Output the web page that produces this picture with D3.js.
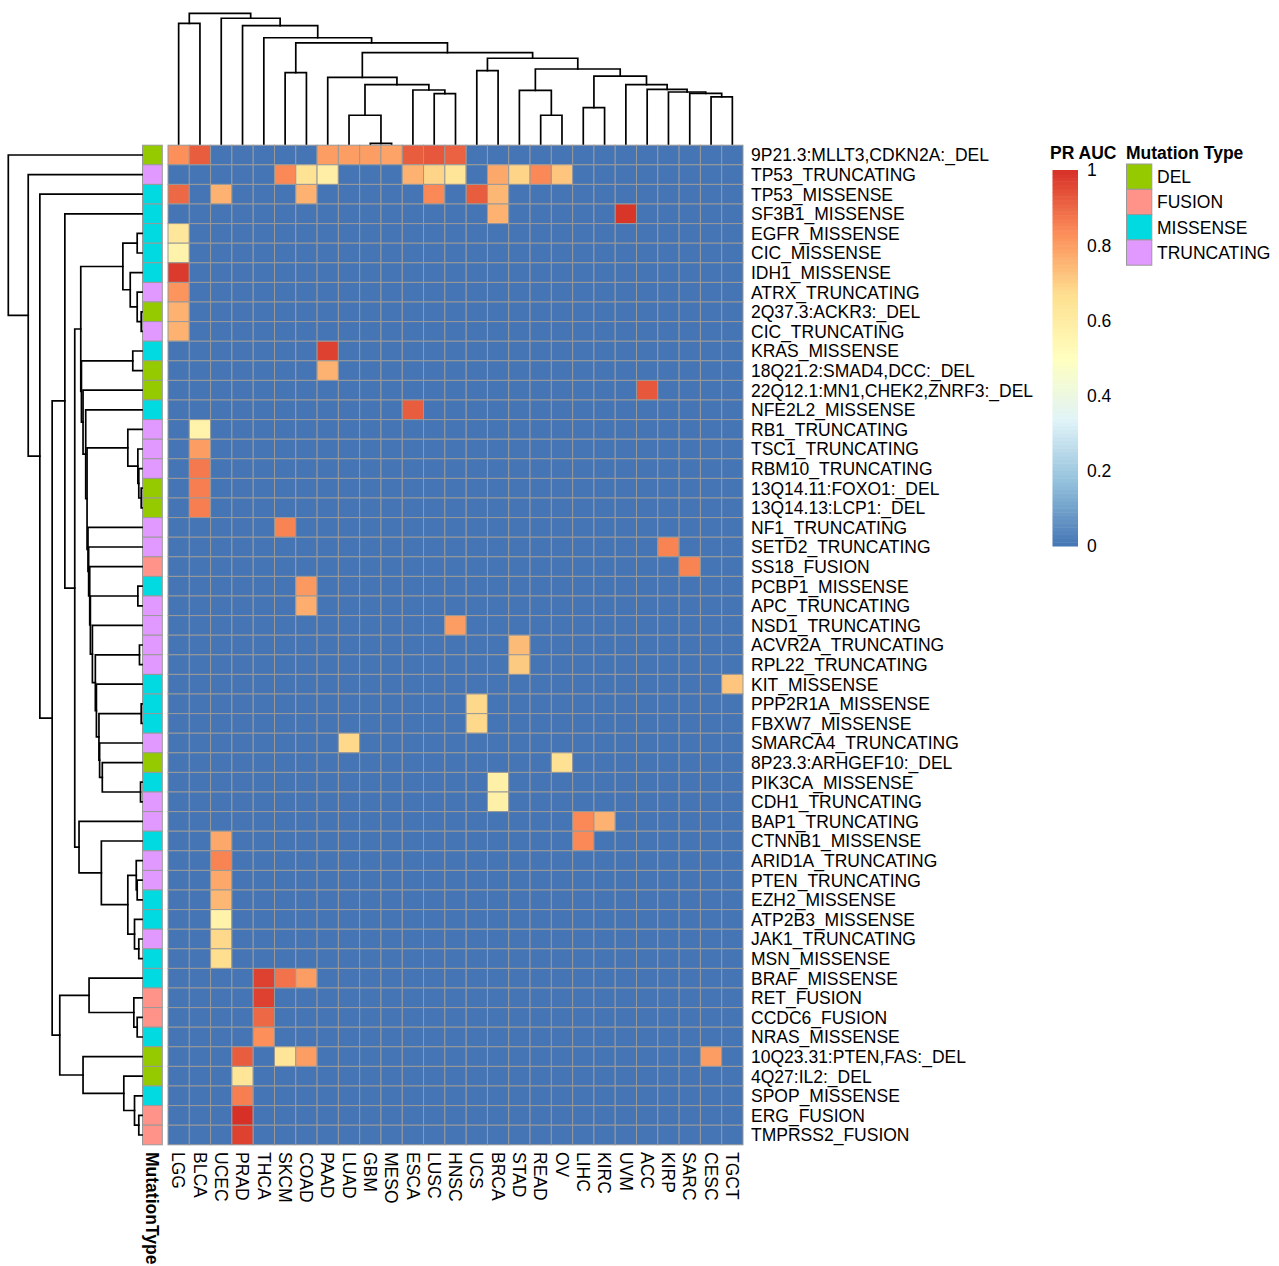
<!DOCTYPE html>
<html lang="en">
<head>
<meta charset="UTF-8">
<title>PR AUC by mutation and cancer type</title>
<style>
  body { margin: 0; background: #fff; }
  svg { display: block; font-family: "Liberation Sans", Arial, Helvetica, sans-serif; }
  .cell { stroke: #999999; stroke-width: 1; }
  .dendro { fill: none; stroke: #000; stroke-width: 1.7; stroke-linecap: square; }
  .lab { font-size: 17.5px; fill: #000; }
  .title { font-size: 17.5px; font-weight: bold; fill: #000; }
</style>
</head>
<body>
<svg width="1279" height="1266"></svg>
<script src="https://d3js.org/d3.v7.min.js"></script>
<script>
// columns in dendrogram order
const cancerTypes = ["LGG", "BLCA", "UCEC", "PRAD", "THCA", "SKCM", "COAD", "PAAD", "LUAD",
  "GBM", "MESO", "ESCA", "LUSC", "HNSC", "UCS", "BRCA", "STAD", "READ", "OV", "LIHC",
  "KIRC", "UVM", "ACC", "KIRP", "SARC", "CESC", "TGCT"];

// rows in dendrogram order
const mutations = ["9P21.3:MLLT3,CDKN2A:_DEL", "TP53_TRUNCATING", "TP53_MISSENSE", "SF3B1_MISSENSE",
  "EGFR_MISSENSE", "CIC_MISSENSE", "IDH1_MISSENSE", "ATRX_TRUNCATING", "2Q37.3:ACKR3:_DEL",
  "CIC_TRUNCATING", "KRAS_MISSENSE", "18Q21.2:SMAD4,DCC:_DEL", "22Q12.1:MN1,CHEK2,ZNRF3:_DEL",
  "NFE2L2_MISSENSE", "RB1_TRUNCATING", "TSC1_TRUNCATING", "RBM10_TRUNCATING", "13Q14.11:FOXO1:_DEL",
  "13Q14.13:LCP1:_DEL", "NF1_TRUNCATING", "SETD2_TRUNCATING", "SS18_FUSION", "PCBP1_MISSENSE",
  "APC_TRUNCATING", "NSD1_TRUNCATING", "ACVR2A_TRUNCATING", "RPL22_TRUNCATING", "KIT_MISSENSE",
  "PPP2R1A_MISSENSE", "FBXW7_MISSENSE", "SMARCA4_TRUNCATING", "8P23.3:ARHGEF10:_DEL",
  "PIK3CA_MISSENSE", "CDH1_TRUNCATING", "BAP1_TRUNCATING", "CTNNB1_MISSENSE", "ARID1A_TRUNCATING",
  "PTEN_TRUNCATING", "EZH2_MISSENSE", "ATP2B3_MISSENSE", "JAK1_TRUNCATING", "MSN_MISSENSE",
  "BRAF_MISSENSE", "RET_FUSION", "CCDC6_FUSION", "NRAS_MISSENSE", "10Q23.31:PTEN,FAS:_DEL",
  "4Q27:IL2:_DEL", "SPOP_MISSENSE", "ERG_FUSION", "TMPRSS2_FUSION"];

const typeLevels = ["DEL", "FUSION", "MISSENSE", "TRUNCATING"];
const typeColors = ["#96CA00", "#FF9289", "#00DAE0", "#E199FF"];

// PR AUC for the non-background cells, everything else is ~0
const hits = [
  ["9P21.3:MLLT3,CDKN2A:_DEL", "LGG", 0.83], ["9P21.3:MLLT3,CDKN2A:_DEL", "BLCA", 0.92],
  ["9P21.3:MLLT3,CDKN2A:_DEL", "PAAD", 0.8], ["9P21.3:MLLT3,CDKN2A:_DEL", "LUAD", 0.8],
  ["9P21.3:MLLT3,CDKN2A:_DEL", "GBM", 0.8], ["9P21.3:MLLT3,CDKN2A:_DEL", "MESO", 0.79],
  ["9P21.3:MLLT3,CDKN2A:_DEL", "ESCA", 0.92], ["9P21.3:MLLT3,CDKN2A:_DEL", "LUSC", 0.93],
  ["9P21.3:MLLT3,CDKN2A:_DEL", "HNSC", 0.91],
  ["TP53_TRUNCATING", "SKCM", 0.84], ["TP53_TRUNCATING", "COAD", 0.65], ["TP53_TRUNCATING", "PAAD", 0.59],
  ["TP53_TRUNCATING", "ESCA", 0.76], ["TP53_TRUNCATING", "LUSC", 0.69], ["TP53_TRUNCATING", "HNSC", 0.64],
  ["TP53_TRUNCATING", "BRCA", 0.78], ["TP53_TRUNCATING", "STAD", 0.69], ["TP53_TRUNCATING", "READ", 0.84],
  ["TP53_TRUNCATING", "OV", 0.72],
  ["TP53_MISSENSE", "LGG", 0.9], ["TP53_MISSENSE", "UCEC", 0.76], ["TP53_MISSENSE", "COAD", 0.76],
  ["TP53_MISSENSE", "LUSC", 0.84], ["TP53_MISSENSE", "UCS", 0.92], ["TP53_MISSENSE", "BRCA", 0.75],
  ["SF3B1_MISSENSE", "BRCA", 0.76], ["SF3B1_MISSENSE", "UVM", 0.99],
  ["EGFR_MISSENSE", "LGG", 0.63], ["CIC_MISSENSE", "LGG", 0.57], ["IDH1_MISSENSE", "LGG", 0.98],
  ["ATRX_TRUNCATING", "LGG", 0.82], ["2Q37.3:ACKR3:_DEL", "LGG", 0.76], ["CIC_TRUNCATING", "LGG", 0.76],
  ["KRAS_MISSENSE", "PAAD", 0.97], ["18Q21.2:SMAD4,DCC:_DEL", "PAAD", 0.76],
  ["22Q12.1:MN1,CHEK2,ZNRF3:_DEL", "ACC", 0.93], ["NFE2L2_MISSENSE", "ESCA", 0.92],
  ["RB1_TRUNCATING", "BLCA", 0.57], ["TSC1_TRUNCATING", "BLCA", 0.8], ["RBM10_TRUNCATING", "BLCA", 0.87],
  ["13Q14.11:FOXO1:_DEL", "BLCA", 0.86], ["13Q14.13:LCP1:_DEL", "BLCA", 0.86],
  ["NF1_TRUNCATING", "SKCM", 0.85], ["SETD2_TRUNCATING", "KIRP", 0.85], ["SS18_FUSION", "SARC", 0.85],
  ["PCBP1_MISSENSE", "COAD", 0.81], ["APC_TRUNCATING", "COAD", 0.77], ["NSD1_TRUNCATING", "HNSC", 0.8],
  ["ACVR2A_TRUNCATING", "STAD", 0.74], ["RPL22_TRUNCATING", "STAD", 0.71], ["KIT_MISSENSE", "TGCT", 0.72],
  ["PPP2R1A_MISSENSE", "UCS", 0.68], ["FBXW7_MISSENSE", "UCS", 0.68], ["SMARCA4_TRUNCATING", "LUAD", 0.68],
  ["8P23.3:ARHGEF10:_DEL", "OV", 0.66], ["PIK3CA_MISSENSE", "BRCA", 0.58], ["CDH1_TRUNCATING", "BRCA", 0.58],
  ["BAP1_TRUNCATING", "LIHC", 0.84], ["BAP1_TRUNCATING", "KIRC", 0.76],
  ["CTNNB1_MISSENSE", "UCEC", 0.78], ["CTNNB1_MISSENSE", "LIHC", 0.84],
  ["ARID1A_TRUNCATING", "UCEC", 0.85], ["PTEN_TRUNCATING", "UCEC", 0.78], ["EZH2_MISSENSE", "UCEC", 0.75],
  ["ATP2B3_MISSENSE", "UCEC", 0.57], ["JAK1_TRUNCATING", "UCEC", 0.68], ["MSN_MISSENSE", "UCEC", 0.67],
  ["BRAF_MISSENSE", "THCA", 0.97], ["BRAF_MISSENSE", "SKCM", 0.88], ["BRAF_MISSENSE", "COAD", 0.8],
  ["RET_FUSION", "THCA", 0.97], ["CCDC6_FUSION", "THCA", 0.9], ["NRAS_MISSENSE", "THCA", 0.83],
  ["10Q23.31:PTEN,FAS:_DEL", "PRAD", 0.92], ["10Q23.31:PTEN,FAS:_DEL", "SKCM", 0.64],
  ["10Q23.31:PTEN,FAS:_DEL", "COAD", 0.8], ["10Q23.31:PTEN,FAS:_DEL", "CESC", 0.8],
  ["4Q27:IL2:_DEL", "PRAD", 0.64], ["SPOP_MISSENSE", "PRAD", 0.86], ["ERG_FUSION", "PRAD", 1.0],
  ["TMPRSS2_FUSION", "PRAD", 0.97]
];

// hclust-style merges: negative = leaf (1-based), positive = earlier merge; third = relative height
const colMerges = [
  [-10, -11, 0.005], [-9, 1, 0.22], [-18, -19, 0.22], [-20, -21, 0.278], [-26, -27, 0.36],
  [-13, -14, 0.385], [-25, 5, 0.388], [-24, 7, 0.398], [-17, 3, 0.411], [-12, 6, 0.413],
  [-23, 8, 0.418], [2, 10, 0.454], [-22, 11, 0.454], [-8, 12, 0.51], [4, 13, 0.52],
  [-6, -7, 0.546], [-15, -16, 0.561], [9, 15, 0.574], [17, 18, 0.656], [14, 19, 0.699],
  [16, 20, 0.773], [-5, 21, 0.813], [-4, 22, 0.905], [-1, -2, 0.923], [-3, 23, 0.962],
  [24, 25, 1.0]
];

const rowMerges = [
  [-5, -6, 0.036], [-9, -10, 0.006], [-8, 2, 0.036], [-7, 3, 0.088], [1, 4, 0.143],
  [-11, -12, 0.069], [-18, -19, 0.006], [-17, 7, 0.024], [-16, 8, 0.031], [-15, 9, 0.106],
  [-23, -24, 0.031], [-26, -27, 0.019], [-29, -30, 0.006], [-33, -34, 0.011], [-32, 14, 0.297],
  [-31, 15, 0.317], [13, 16, 0.322], [-28, 17, 0.341], [12, 18, 0.349], [-25, 19, 0.371],
  [11, 20, 0.386], [-22, 21, 0.391], [-21, 22, 0.399], [-20, 23, 0.404], [10, 24, 0.411],
  [-14, 25, 0.421], [-13, 26, 0.441], [6, 27, 0.453], [5, 28, 0.458], [-38, -39, 0.036],
  [-37, 30, 0.043], [-41, -42, 0.024], [-40, 32, 0.056], [31, 33, 0.106], [-36, 34, 0.304],
  [-35, 35, 0.471], [29, 36, 0.503], [-4, 37, 0.577], [-45, -46, 0.036], [-44, 39, 0.061],
  [-43, 40, 0.396], [-50, -51, 0.024], [-49, 42, 0.056], [-48, 43, 0.136], [-47, 44, 0.441],
  [41, 45, 0.615], [38, 46, 0.672], [-3, 47, 0.764], [-2, 48, 0.851], [-1, 49, 1.0]
];

const legendTicks = [0, 0.2, 0.4, 0.6, 0.8, 1];
const palette = ["#4575B4", "#91BFDB", "#E0F3F8", "#FFFFBF", "#FEE090", "#FC8D59", "#D73027"];

const svg = d3.select("svg");

const x = d3.scaleBand().domain(cancerTypes).range([168, 743]);
const y = d3.scaleBand().domain(mutations).range([145.2, 1144.8]);
const color = d3.scaleLinear()
  .domain(d3.range(palette.length).map(i => i / (palette.length - 1)))
  .range(palette);
const typeColor = d3.scaleOrdinal(typeLevels, typeColors);
const mutType = m => m.slice(m.lastIndexOf("_") + 1);

const lookup = new Map(hits.map(d => [d[0] + "|" + d[1], d[2]]));

// heatmap cells
svg.append("g").selectAll("rect")
  .data(d3.cross(mutations, cancerTypes))
  .join("rect")
  .attr("class", "cell")
  .attr("x", d => x(d[1]))
  .attr("y", d => y(d[0]))
  .attr("width", x.bandwidth())
  .attr("height", y.bandwidth())
  .attr("fill", d => color(lookup.get(d[0] + "|" + d[1]) || 0));

// annotation column
svg.append("g").selectAll("rect")
  .data(mutations)
  .join("rect")
  .attr("class", "cell")
  .attr("x", 142.5)
  .attr("y", d => y(d))
  .attr("width", 19.8)
  .attr("height", y.bandwidth())
  .attr("fill", d => typeColor(mutType(d)));

// row labels
svg.append("g").selectAll("text")
  .data(mutations)
  .join("text")
  .attr("class", "lab")
  .attr("x", 751)
  .attr("y", d => y(d) + y.bandwidth() / 2)
  .attr("dy", "0.36em")
  .text(d => d);

// column labels
svg.append("g").selectAll("text")
  .data(cancerTypes)
  .join("text")
  .attr("class", "lab")
  .attr("transform", d => `translate(${x(d) + x.bandwidth() / 2},1152) rotate(90)`)
  .attr("dy", "0.36em")
  .text(d => d);

svg.append("text")
  .attr("class", "title")
  .attr("transform", "translate(152.4,1152) rotate(90)")
  .attr("dy", "0.36em")
  .text("MutationType");

// dendrograms
function buildTree(merges) {
  const made = merges.map(([a, b, h]) => ({ h, kids: [a, b] }));
  const ref = k => (k < 0 ? { h: 0, leaf: -k - 1 } : made[k - 1]);
  made.forEach(m => { m.children = m.kids.map(ref); });
  return d3.hierarchy(made[made.length - 1]);
}

const colTree = buildTree(colMerges);
colTree.eachAfter(n => {
  n.pos = n.children ? d3.mean(n.children, c => c.pos)
    : x(cancerTypes[n.data.leaf]) + x.bandwidth() / 2;
});
const topH = d3.scaleLinear().domain([0, 1]).range([144, 13.3]);
svg.append("g").selectAll("path")
  .data(colTree.descendants().filter(n => n.children))
  .join("path")
  .attr("class", "dendro")
  .attr("d", n => {
    const [a, b] = n.children;
    return `M${a.pos},${topH(a.data.h)}V${topH(n.data.h)}H${b.pos}V${topH(b.data.h)}`;
  });

const rowTree = buildTree(rowMerges);
rowTree.eachAfter(n => {
  n.pos = n.children ? d3.mean(n.children, c => c.pos)
    : y(mutations[n.data.leaf]) + y.bandwidth() / 2;
});
const leftH = d3.scaleLinear().domain([0, 1]).range([142, 8.3]);
svg.append("g").selectAll("path")
  .data(rowTree.descendants().filter(n => n.children))
  .join("path")
  .attr("class", "dendro")
  .attr("d", n => {
    const [a, b] = n.children;
    return `M${leftH(a.data.h)},${a.pos}H${leftH(n.data.h)}V${b.pos}H${leftH(b.data.h)}`;
  });

// colour legend
const legY = d3.scaleLinear().domain([0, 1]).range([546, 170]);
const leg = svg.append("g");
leg.append("text").attr("class", "title").attr("x", 1050).attr("y", 152.5).attr("dy", "0.36em").text("PR AUC");
const steps = d3.range(100).map(i => i / 100);
leg.selectAll("rect")
  .data(steps)
  .join("rect")
  .attr("x", 1052.5)
  .attr("width", 25.5)
  .attr("y", d => legY(d + 0.01))
  .attr("height", legY(0) - legY(0.01) + 0.5)
  .attr("fill", d => color(d + 0.005));
leg.selectAll("text.tick")
  .data(legendTicks)
  .join("text")
  .attr("class", "lab tick")
  .attr("x", 1087)
  .attr("y", d => legY(d))
  .attr("dy", "0.36em")
  .text(d => d3.format("~g")(d));

// annotation legend
const ann = svg.append("g");
ann.append("text").attr("class", "title").attr("x", 1126).attr("y", 152.5).attr("dy", "0.36em").text("Mutation Type");
ann.selectAll("rect")
  .data(typeLevels)
  .join("rect")
  .attr("class", "cell")
  .attr("x", 1126.5)
  .attr("y", (d, i) => 164 + i * 25.3)
  .attr("width", 25.3)
  .attr("height", 25.3)
  .attr("fill", d => typeColor(d));
ann.selectAll("text.key")
  .data(typeLevels)
  .join("text")
  .attr("class", "lab key")
  .attr("x", 1157)
  .attr("y", (d, i) => 164 + i * 25.3 + 12.6)
  .attr("dy", "0.36em")
  .text(d => d);
</script>
</body>
</html>
